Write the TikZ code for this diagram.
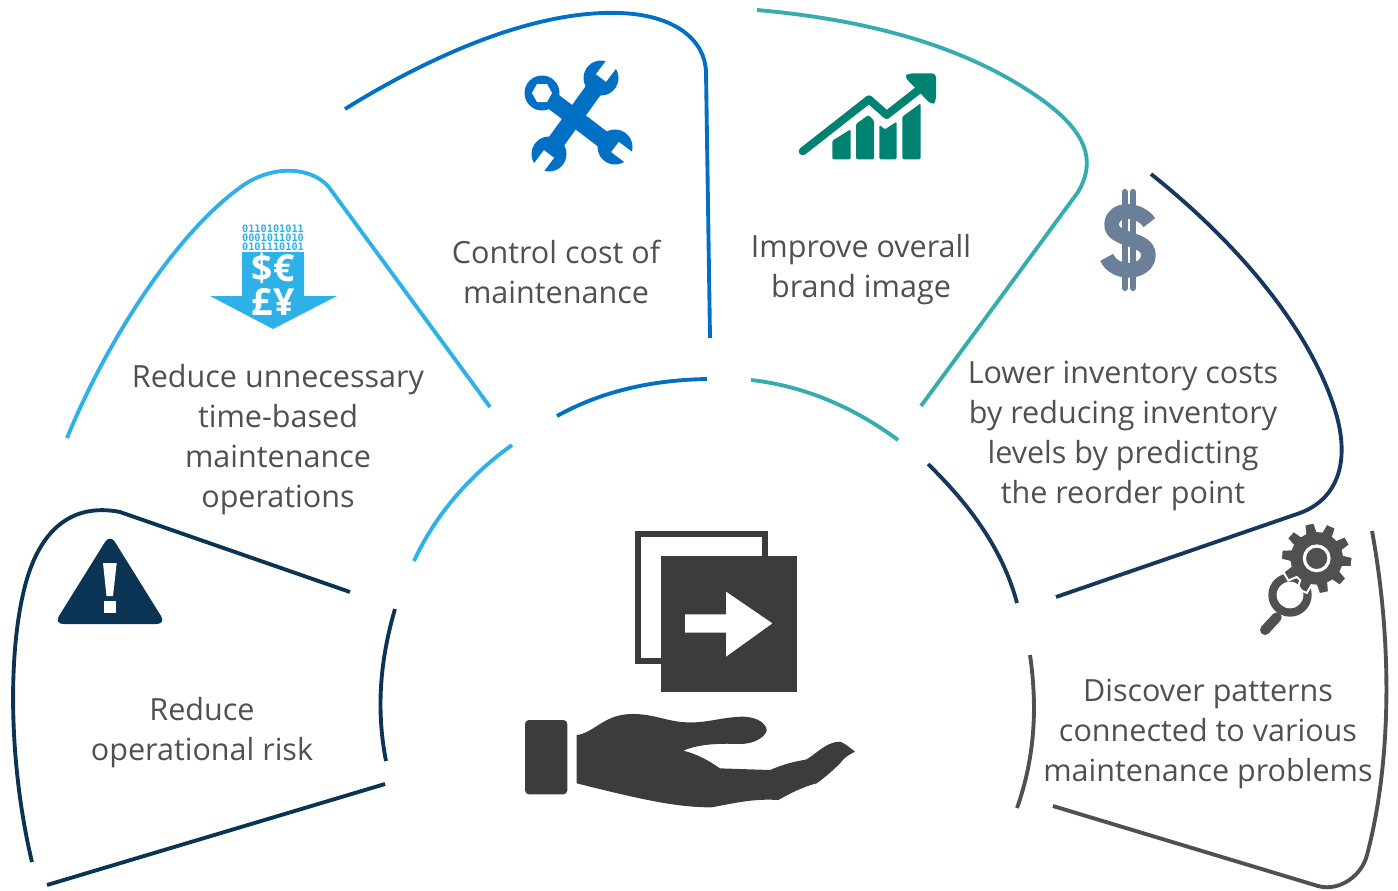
\documentclass[tikz,border=0pt]{standalone}
\usepackage{fontspec}
\setmainfont{Open Sans}
\newfontfamily\monob{DejaVu Sans Mono}[Scale=1]
\definecolor{cdark}{HTML}{0B3354}
\definecolor{csky}{HTML}{2EB0E8}
\definecolor{cblue}{HTML}{0070C4}
\definecolor{cteal}{HTML}{36ACAE}
\definecolor{cnavy}{HTML}{17375E}
\definecolor{cgrey}{HTML}{505050}
\definecolor{cgreen}{HTML}{008272}
\definecolor{cdollar}{HTML}{6B7F99}
\definecolor{chand}{HTML}{3C3C3C}
\tikzset{
  arcline/.style={line width=2.9pt,line cap=butt,line join=round},
  label/.style={text=cgrey,align=center,font=\fontsize{22.9}{30}\selectfont,inner sep=0pt},
  zoomed/.style={x=.25pt,y=-.25pt}
}
\begin{document}
\begin{tikzpicture}[x=.75pt,y=-.75pt]
\useasboundingbox (0,0) rectangle (1398,890);
% --- dark left
\draw[arcline,cdark] (350,592) -- (120,512) .. controls (85,505) and (42,515) .. (24,590) .. controls (7,660) and (10,770) .. (32,862);
\draw[arcline,cdark] (47,885) -- (385,784);
\draw[arcline,cdark] (395,609) .. controls (380,660) and (376,710) .. (386,761);
% --- sky
\draw[arcline,csky] (67,438) .. controls (105,345) and (175,232) .. (245,184) .. controls (275,165) and (310,167) .. (328,186) -- (490,407);
\draw[arcline,csky] (414,561) .. controls (435,515) and (470,475) .. (512,445);
% --- blue
\draw[arcline,cblue] (345,109) .. controls (440,50) and (540,10) .. (620,13) .. controls (675,15) and (705,40) .. (706,72) -- (710,338);
\draw[arcline,cblue] (557,416) .. controls (600,392) and (650,380) .. (707,379);
% --- teal
\draw[arcline,cteal] (757,10) .. controls (870,20) and (970,47) .. (1045,102) .. controls (1085,132) and (1097,160) .. (1078,192) -- (921,406);
\draw[arcline,cteal] (751,380) .. controls (805,386) and (855,408) .. (898,440);
% --- navy
\draw[arcline,cnavy] (1151,174) .. controls (1240,245) and (1310,330) .. (1335,410) .. controls (1352,465) and (1335,500) .. (1300,513) -- (1056,597);
\draw[arcline,cnavy] (928,464) .. controls (970,505) and (1003,550) .. (1017,603);
% --- grey
\draw[arcline,cgrey] (1372,531) .. controls (1392,640) and (1392,760) .. (1367,855) .. controls (1362,875) and (1340,892) .. (1318,886) -- (1053,806);
\draw[arcline,cgrey] (1030,655) .. controls (1038,710) and (1034,760) .. (1017,808);

% --- labels
\node[label] (t1) at (278,440) {Reduce unnecessary\\time-based\\maintenance\\operations};
\node[label] (t2) at (556,272) {Control cost of\\maintenance};
\node[label] (t3) at (861,270) {Improve overall\\brand image};
\node[label] (t4) at (1123,436) {Lower inventory costs\\by reducing inventory\\levels by predicting\\the reorder point};
\node[label] (t5) at (1208,734) {Discover patterns\\connected to various\\maintenance problems};
\node[label] (t6) at (202,733) {Reduce\\operational risk};

% --- wrench icon
\begin{scope}
\draw[cblue,line width=13pt] (542,93) -- (613,147);
\draw[cblue,line width=13pt] (603,77) -- (548,153);
\fill[cblue] (542,93) circle[radius=17.5];
\fill[white] (552,93) -- (547,102) -- (537,102) -- (532,93) -- (537,84) -- (547,84) -- cycle;
\fill[cblue] (601,78) circle[radius=17.5] (615,147) circle[radius=17.5] (549,154) circle[radius=17.5];
\draw[white,line width=9.5pt] (601,78) -- ++(15,-20);
\draw[white,line width=9.5pt] (615,147) -- ++(20,15);
\draw[white,line width=9.5pt] (549,154) -- ++(-15,20);
\end{scope}

% --- chart icon
\begin{scope}[shift={(500,50)},zoomed]
\fill[cgreen,rounded corners=1pt] (997,328) -- (997,272) -- (1052,238) -- (1052,328) -- cycle;
\fill[cgreen,rounded corners=1pt] (1068,328) -- (1068,222) -- (1105,195) -- (1122,212) -- (1122,328) -- cycle;
\fill[cgreen,rounded corners=1pt] (1138,328) -- (1138,225) -- (1155,238) -- (1190,215) -- (1190,328) -- cycle;
\fill[cgreen,rounded corners=1pt] (1207,328) -- (1207,200) -- (1262,160) -- (1262,328) -- cycle;
\draw[cgreen,line width=6pt,line cap=round,line join=round] (908,304) -- (1107,148) -- (1160,195) -- (1262,115);
\fill[cgreen,rounded corners=3pt] (1213,80) -- (1225,70) -- (1308,70) -- (1308,155) -- (1295,165) -- cycle;
\end{scope}

% --- data arrow icon
\fill[csky] (242,252) -- (304,252) -- (304,296) -- (337,296) -- (273,329) -- (210,296) -- (242,296) -- cycle;
\node[text=csky,font=\monob\bfseries\fontsize{7.7}{6.8}\selectfont,align=center,inner sep=0pt] (bits) at (273,238) {0110101011\\0001011010\\0101110101};
\node[text=white,font=\bfseries\fontsize{28}{28}\selectfont,inner sep=0pt] (cur1) at (273,268) {\$€};
\node[text=white,font=\bfseries\fontsize{28}{28}\selectfont,inner sep=0pt] (cur2) at (273,302) {£¥};

% --- warning icon
\fill[cdark,rounded corners=7pt] (110,534) -- (166,624) -- (54,624) -- cycle;
\fill[white] (103,563) -- (116.7,563) -- (113,596) -- (106.5,596) -- cycle;
\fill[white] (104,601) rectangle (115.5,613);

% --- dollar icon
\begin{scope}[shift={(1080,180)},zoomed]
\draw[cdollar,line width=11pt] (208,128) .. controls (180,85) and (98,80) .. (95,132) .. controls (92,185) and (205,170) .. (205,225) .. controls (205,280) and (105,290) .. (80,232);
\draw[cdollar,line width=4.6pt,line cap=round] (134,36) -- (134,324);
\draw[cdollar,line width=4.6pt,line cap=round] (159,36) -- (159,324);
\end{scope}

% --- gear and magnifier icon
\begin{scope}[shift={(1240,510)},zoomed]
\draw[cgrey,line width=6.5pt] (150,255) circle[radius=52];
\draw[cgrey,line width=7.5pt,line cap=round] (110,322) -- (75,360);
\fill[cgrey,draw=white,line width=1.5pt]
  plot[samples at={0,...,39},variable=\i] ({230+(mod(\i,4)==0||mod(\i,4)==3 ? 82:108)*cos(6+36*int(\i/4)+(mod(\i,4)==0 ? -13:(mod(\i,4)==1 ? -8:(mod(\i,4)==2 ? 8:13))))},{145+(mod(\i,4)==0||mod(\i,4)==3 ? 82:108)*sin(6+36*int(\i/4)+(mod(\i,4)==0 ? -13:(mod(\i,4)==1 ? -8:(mod(\i,4)==2 ? 8:13))))}) -- cycle;
\draw[white,line width=2.4pt] (230,145) circle[radius=37];
\fill[white] (150,255) circle[radius=40];
\end{scope}

% --- central hand icon
\begin{scope}[shift={(510,520)},zoomed]
\draw[chand,line width=4.4pt] (384,41) rectangle (765,423);
\fill[chand] (452,108) rectangle (860,517);
\fill[white] (525,283) -- (648,283) -- (648,215) -- (787,310) -- (648,410) -- (648,338) -- (525,338) -- cycle;
\fill[chand,rounded corners=3pt] (45,600) -- (172,600) -- (172,823) -- (45,823) -- cycle;
\fill[chand] (200,645) .. controls (250,640) and (280,585) .. (360,582) .. controls (430,580) and (470,605) .. (530,607) .. controls (590,610) and (640,590) .. (700,590) .. controls (750,592) and (770,615) .. (770,632) .. controls (765,650) and (735,672) .. (690,672) .. controls (640,670) and (570,670) .. (520,692) .. controls (570,705) and (600,725) .. (630,745) -- (780,750) .. controls (840,725) and (860,725) .. (890,718) .. controls (920,700) and (950,665) .. (990,665) .. controls (1000,668) and (1010,675) .. (1035,695) .. controls (1000,712) and (995,725) .. (990,730) .. controls (960,760) and (940,775) .. (920,790) .. controls (880,800) and (840,820) .. (805,840) .. controls (730,835) and (670,850) .. (605,862) .. controls (500,862) and (400,840) .. (200,790) -- cycle;
\end{scope}
\end{tikzpicture}
\end{document}
